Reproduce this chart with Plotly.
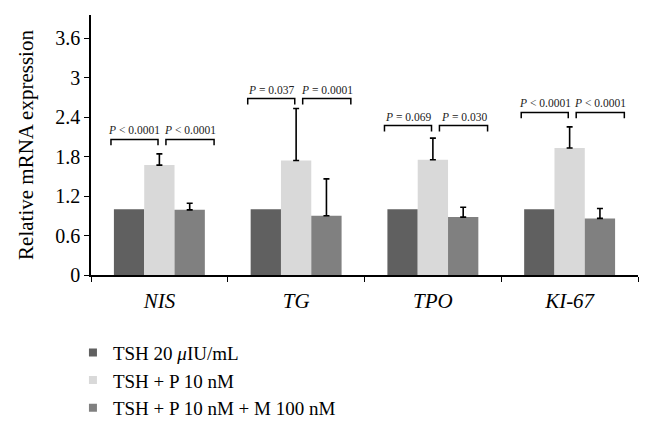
import plotly.graph_objects as go

categories = ["NIS", "TG", "TPO", "KI-67"]
series_names = ["TSH 20 <i>μ</i>IU/mL", "TSH + P 10 nM", "TSH + P 10 nM + M 100 nM"]
tsh = [1.0, 1.0, 1.0, 1.0]
tsh_p = [1.67, 1.74, 1.75, 1.93]
tsh_p_m = [0.99, 0.90, 0.88, 0.86]
err_tsh_p = [0.17, 0.79, 0.33, 0.32]
err_tsh_p_m = [0.10, 0.56, 0.15, 0.15]
bracket_levels = [2.06, 2.68, 2.27, 2.47]
p_left = ["<i>P</i> < 0.0001", "<i>P</i> = 0.037", "<i>P</i> = 0.069", "<i>P</i> < 0.0001"]
p_right = ["<i>P</i> < 0.0001", "<i>P</i> = 0.0001", "<i>P</i> = 0.030", "<i>P</i> < 0.0001"]
y_ticks = [0, 0.6, 1.2, 1.8, 2.4, 3, 3.6]
y_tick_text = ["0", "0.6", "1.2", "1.8", "2.4", "3", "3.6"]

colors = ["#606060", "#d9d9d9", "#808080"]
serif = "Liberation Serif"
cat_labels = [f"<i>{c}</i>" for c in categories]

fig = go.Figure()
fig.add_bar(x=cat_labels, y=tsh, name=series_names[0], marker_color=colors[0],
            marker_line_width=0, showlegend=False)
fig.add_bar(x=cat_labels, y=tsh_p, name=series_names[1], marker_color=colors[1],
            marker_line_width=0, showlegend=False,
            error_y=dict(type="data", array=err_tsh_p, arrayminus=[0] * 4,
                         symmetric=False, color="black", thickness=1.6, width=3))
fig.add_bar(x=cat_labels, y=tsh_p_m, name=series_names[2], marker_color=colors[2],
            marker_line_width=0, showlegend=False,
            error_y=dict(type="data", array=err_tsh_p_m, arrayminus=[0] * 4,
                         symmetric=False, color="black", thickness=1.6, width=3))

# legend entries (small square swatches like the reference)
for name, col in zip(series_names, colors):
    fig.add_scatter(x=[None], y=[None], mode="markers", name=name,
                    marker=dict(symbol="square", size=8, color=col))

drop = 0.09
for i, lvl in enumerate(bracket_levels):
    for (a, b, txt) in [(-0.354, -0.01, p_left[i]), (0.048, 0.40, p_right[i])]:
        fig.add_shape(type="path", xref="x", yref="y",
                      path=f"M {i + a},{lvl - drop} L {i + a},{lvl} L {i + b},{lvl} L {i + b},{lvl - drop}",
                      line=dict(color="black", width=1.5))
        fig.add_annotation(x=i + (a + b) / 2, y=lvl, xref="x", yref="y", text=txt,
                           showarrow=False, yanchor="bottom", yshift=1,
                           font=dict(family=serif, size=11.5, color="#222"))

fig.update_layout(
    width=653, height=426,
    margin=dict(l=91, r=15, t=15, b=151, autoexpand=False),
    paper_bgcolor="white", plot_bgcolor="white",
    barmode="group", bargap=0.335, bargroupgap=0,
    font=dict(family=serif, color="black"),
    legend=dict(orientation="v", x=-0.033, xanchor="left",
                yref="container", y=0.217, yanchor="top",
                font=dict(family=serif, size=19, color="black"),
                itemwidth=30, tracegroupgap=0, bgcolor="rgba(0,0,0,0)"),
    showlegend=True,
)
fig.update_xaxes(type="category", tickson="boundaries", ticks="outside", ticklen=5,
                 tickcolor="black", showline=True, linecolor="black", linewidth=1.5,
                 tickfont=dict(family=serif, size=21, color="black"),
                 ticklabelstandoff=6, automargin=False,
                 showgrid=False, range=[-0.5, 3.5])
fig.update_yaxes(range=[0, 3.95], tickvals=y_ticks, ticktext=y_tick_text,
                 ticks="outside", ticklen=5, tickcolor="black",
                 showline=True, linecolor="black", linewidth=1.5,
                 showgrid=False, zeroline=False, automargin=False,
                 tickfont=dict(family=serif, size=20, color="black"),
                 title=dict(text="Relative mRNA expression",
                            font=dict(family=serif, size=21, color="black"),
                            standoff=16))

fig.write_html("out.html", config={"displayModeBar": False},
               post_script="document.body.style.margin='0';")
